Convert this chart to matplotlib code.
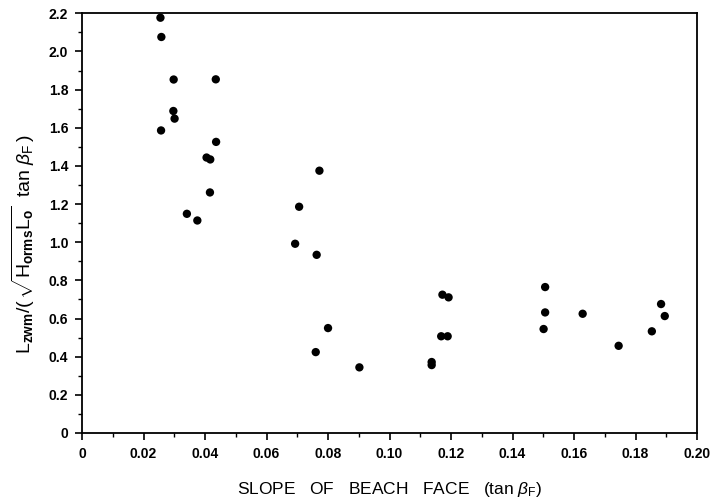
import matplotlib.pyplot as plt
from matplotlib.ticker import MultipleLocator, FuncFormatter

# slope of beach face (tan beta_F)
slope = [0.0255, 0.0258, 0.0298, 0.0435, 0.0297, 0.0301, 0.0257, 0.0436,
         0.0405, 0.0417, 0.0416, 0.0341, 0.0375, 0.0706, 0.0693, 0.0772,
         0.0763, 0.0800, 0.0760, 0.0902, 0.1137, 0.1137, 0.1172, 0.1192,
         0.1168, 0.1189, 0.1506, 0.1506, 0.1501, 0.1628, 0.1745, 0.1853,
         0.1883, 0.1895]
# normalised surf zone width
ratio = [2.177, 2.076, 1.853, 1.854, 1.688, 1.648, 1.586, 1.526,
         1.444, 1.434, 1.261, 1.149, 1.114, 1.186, 0.992, 1.375,
         0.934, 0.550, 0.424, 0.344, 0.372, 0.356, 0.725, 0.711,
         0.507, 0.507, 0.765, 0.632, 0.545, 0.625, 0.457, 0.533,
         0.676, 0.613]

plt.rcParams['font.family'] = ['Liberation Sans', 'DejaVu Sans']
plt.rcParams['mathtext.fontset'] = 'custom'
plt.rcParams['mathtext.rm'] = 'Liberation Sans'
plt.rcParams['mathtext.it'] = 'Liberation Sans:italic'
plt.rcParams['mathtext.bf'] = 'Liberation Sans:bold'

fig = plt.figure(figsize=(7.12, 5.03), dpi=100)
ax = fig.add_axes([0.1152, 0.1392, 0.8638, 0.8343])

ax.scatter(slope, ratio, s=36, c='black', edgecolors='none', zorder=3)

ax.set_xlim(0, 0.20)
ax.set_ylim(0, 2.2)
ax.xaxis.set_major_locator(MultipleLocator(0.02))
ax.xaxis.set_minor_locator(MultipleLocator(0.01))
ax.yaxis.set_major_locator(MultipleLocator(0.2))
ax.yaxis.set_minor_locator(MultipleLocator(0.1))


def fmt_x(v, pos):
    return '0' if abs(v) < 1e-9 else '%.2f' % v


def fmt_y(v, pos):
    return '0' if abs(v) < 1e-9 else '%.1f' % v


ax.xaxis.set_major_formatter(FuncFormatter(fmt_x))
ax.yaxis.set_major_formatter(FuncFormatter(fmt_y))
ax.tick_params(which='major', direction='out', length=5, width=1.2,
               labelsize=10, pad=5)
ax.tick_params(which='minor', direction='out', length=3, width=1.0)
for lab in ax.get_xticklabels() + ax.get_yticklabels():
    lab.set_fontweight('bold')

for sp in ax.spines.values():
    sp.set_linewidth(1.3)

ax.set_xlabel(r'SLOPE   OF   BEACH   FACE   (tan $\beta_\mathrm{F}$)',
              fontsize=12.5, labelpad=14)
ax.set_ylabel(r'$\mathrm{L_{\mathbf{zwm}}/(\,\sqrt{H_{\mathbf{orms}}L_{\mathbf{o}}}\ \ tan\ }\beta_\mathrm{F}\mathrm{\,)}$',
              fontsize=14)
ax.yaxis.set_label_coords(-0.074, 0.45)

fig.savefig('out.png', dpi=100)
